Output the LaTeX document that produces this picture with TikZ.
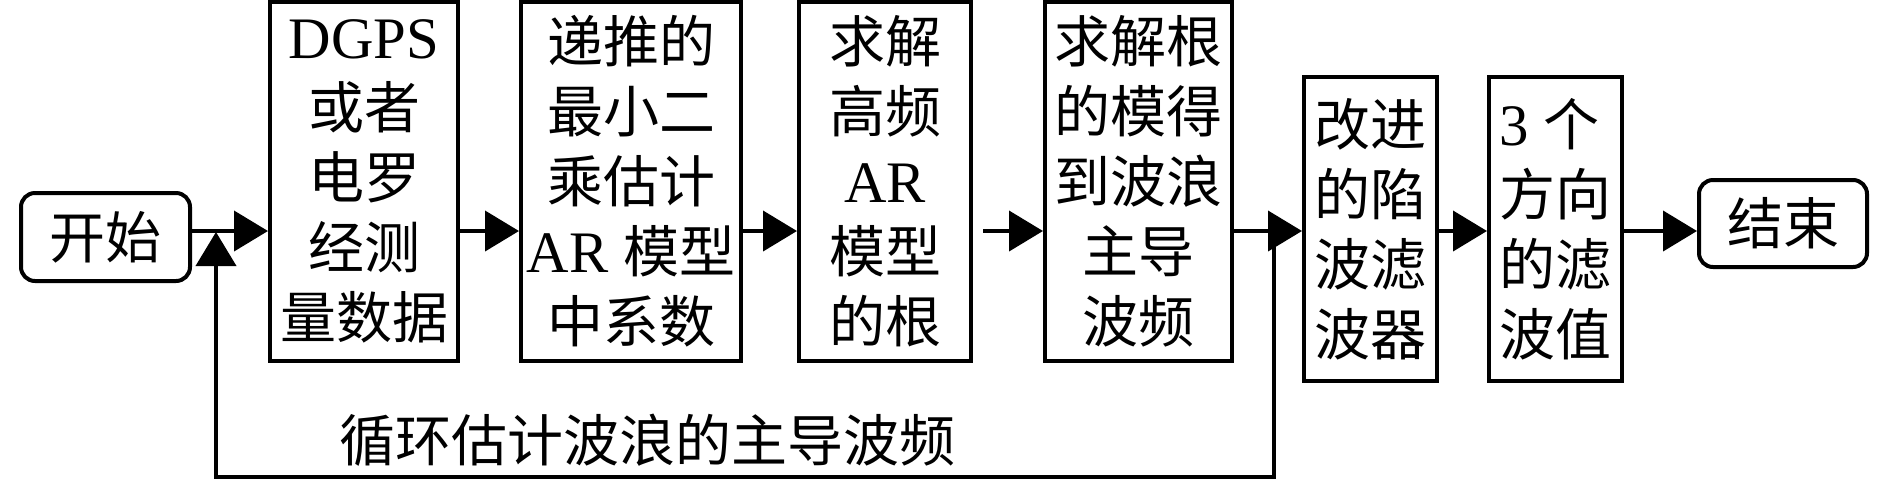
\documentclass[tikz,border=0pt]{standalone}
\usepackage{fontspec}
\setmainfont{Liberation Serif}[Scale=1.05]
\newfontfamily\cjk{Noto Sans CJK SC}
\newcommand\zhs[1]{{\cjk #1}}
\usetikzlibrary{arrows.meta}
\begin{document}
\begin{tikzpicture}[x=0.5pt,y=-0.5pt,
  every node/.style={font=\fontsize{28pt}{35pt}\selectfont, inner sep=0pt},
  box/.style={draw, line width=2pt, align=center},
  term/.style={draw, line width=2pt, rounded corners=7pt},
  arr/.style={line width=2pt, -{Triangle[length=17pt,width=20pt]}},
]
\useasboundingbox (0,0) rectangle (1890,484);
\node[term, minimum width=84.5pt, minimum height=44pt] (start) at (105.5,237) {\zhs{开始}};
\node[box, minimum width=94pt, minimum height=179.5pt] (dgps) at (364,181.5)
  {DGPS\\\zhs{或者}\\\zhs{电罗}\\\zhs{经测}\\\zhs{量数据}};
\node[box, minimum width=110pt, minimum height=179.5pt] (b2) at (631,181.5)
  {\zhs{递推的}\\\zhs{最小二}\\\zhs{乘估计}\\AR \zhs{模型}\\\zhs{中系数}};
\node[box, minimum width=86pt, minimum height=179.5pt] (b3) at (885,181.5)
  {\zhs{求解}\\\zhs{高频}\\AR\\\zhs{模型}\\\zhs{的根}};
\node[box, minimum width=93.5pt, minimum height=179.5pt] (b4) at (1138.5,181.5)
  {\zhs{求解根}\\\zhs{的模得}\\\zhs{到波浪}\\\zhs{主导}\\\zhs{波频}};
\node[box, minimum width=66.5pt, minimum height=152pt] (b5) at (1370.5,229)
  {\zhs{改进}\\\zhs{的陷}\\\zhs{波滤}\\\zhs{波器}};
\node[box, align=left, minimum width=66.5pt, minimum height=152pt] (b6) at (1555.5,229)
  {3 \zhs{个}\\\zhs{方向}\\\zhs{的滤}\\\zhs{波值}};
\node[term, minimum width=84pt, minimum height=43.5pt] (stop) at (1783,223.5) {\zhs{结束}};
\node[anchor=west] (lab) at (339,440) {\zhs{循环估计波浪的主导波频}};
\coordinate (ml) at (0,231);
\coordinate (split) at (1274,231);
\coordinate (join) at (216,232);
\coordinate (low) at (0,477);
\draw[arr] (start.east |- ml) -- (dgps.west |- ml);
\draw[arr] (dgps.east |- ml) -- (b2.west |- ml);
\draw[arr] (b2.east |- ml) -- (b3.west |- ml);
\draw[arr] ([xshift=5pt]b3.east |- ml) -- (b4.west |- ml);
\draw[arr] (b4.east |- ml) -- (b5.west |- ml);
\draw[arr] (b5.east |- ml) -- (b6.west |- ml);
\draw[arr] (b6.east |- ml) -- (stop.west |- ml);
\draw[arr] (split) -- (split |- low) -| (join);
\end{tikzpicture}
\end{document}
